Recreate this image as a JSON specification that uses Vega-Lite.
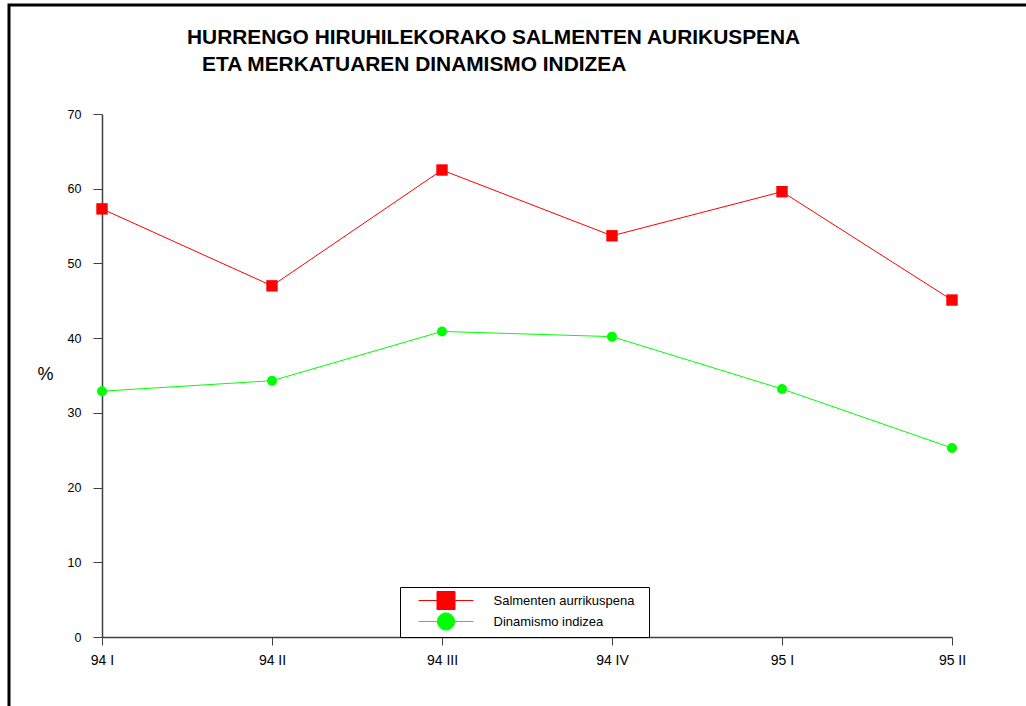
{
  "$schema": "https://vega.github.io/schema/vega-lite/v6.json",
  "autosize": {"type": "none"},
  "padding": {"left": 9, "top": 5, "right": 0, "bottom": 0},
  "width": 1030,
  "height": 710,
  "background": "white",
  "config": {
    "font": "Liberation Sans",
    "view": {"stroke": "black", "strokeWidth": 3, "fill": "white"}
  },
  "title": {
    "text": ["HURRENGO HIRUHILEKORAKO SALMENTEN AURIKUSPENA", "\u2800ETA MERKATUAREN DINAMISMO INDIZEA"],
    "anchor": "start",
    "frame": "group",
    "dx": 178,
    "offset": -69.5,
    "baseline": "top",
    "font": "Liberation Sans",
    "fontSize": 20.9,
    "fontWeight": "bold",
    "lineHeight": 27,
    "color": "black"
  },
  "data": {
    "values": [
      {"periodoa": "94 I", "saila": "Salmenten aurrikuspena", "balioa": 57.3},
      {"periodoa": "94 II", "saila": "Salmenten aurrikuspena", "balioa": 47.0},
      {"periodoa": "94 III", "saila": "Salmenten aurrikuspena", "balioa": 62.5},
      {"periodoa": "94 IV", "saila": "Salmenten aurrikuspena", "balioa": 53.7},
      {"periodoa": "95 I", "saila": "Salmenten aurrikuspena", "balioa": 59.6},
      {"periodoa": "95 II", "saila": "Salmenten aurrikuspena", "balioa": 45.1},
      {"periodoa": "94 I", "saila": "Dinamismo indizea", "balioa": 32.9},
      {"periodoa": "94 II", "saila": "Dinamismo indizea", "balioa": 34.3},
      {"periodoa": "94 III", "saila": "Dinamismo indizea", "balioa": 40.9},
      {"periodoa": "94 IV", "saila": "Dinamismo indizea", "balioa": 40.2},
      {"periodoa": "95 I", "saila": "Dinamismo indizea", "balioa": 33.2},
      {"periodoa": "95 II", "saila": "Dinamismo indizea", "balioa": 25.3}
    ]
  },
  "encoding": {
    "x": {
      "field": "periodoa",
      "type": "ordinal",
      "sort": null,
      "scale": {"type": "point", "range": [93, 943], "padding": 0},
      "axis": {
        "title": null,
        "offset": -78,
        "labelAngle": 0,
        "labelFont": "Liberation Sans",
        "labelFontSize": 14,
        "labelColor": "black",
        "labelPadding": 8,
        "tickSize": 8,
        "tickColor": "#404040",
        "domainColor": "#404040",
        "domainWidth": 1.5,
        "grid": false
      }
    },
    "y": {
      "field": "balioa",
      "type": "quantitative",
      "scale": {"domain": [0, 70], "range": [632, 109], "nice": false, "zero": true},
      "axis": {
        "title": "%",
        "titleAngle": 0,
        "titleX": -57,
        "titleY": 369,
        "titleAlign": "center",
        "titleBaseline": "middle",
        "titleFont": "Liberation Sans",
        "titleFontSize": 18,
        "titleFontWeight": "normal",
        "titleColor": "black",
        "offset": -93,
        "values": [0, 10, 20, 30, 40, 50, 60, 70],
        "labelFont": "Liberation Sans",
        "labelFontSize": 12.5,
        "labelColor": "black",
        "labelPadding": 12,
        "tickSize": 9,
        "tickColor": "#404040",
        "domainColor": "#404040",
        "domainWidth": 1.5,
        "grid": false
      }
    },
    "color": {
      "field": "saila",
      "type": "nominal",
      "scale": {"domain": ["Salmenten aurrikuspena", "Dinamismo indizea"], "range": ["#ff0000", "#00ff00"]},
      "legend": {
        "title": null,
        "orient": "none",
        "legendX": 391,
        "legendY": 582,
        "strokeColor": "black",
        "fillColor": "white",
        "padding": 4,
        "rowPadding": -2,
        "symbolSize": 324,
        "symbolStrokeWidth": 1,
        "symbolOpacity": 1,
        "symbolType": {"expr": "datum.value === 'Salmenten aurrikuspena' ? 'M-3.05,0H3.05M-1,-1H1V1H-1Z' : 'M-3.05,0H3.05M-0.95,0A0.95,0.95,0,1,1,0.95,0A0.95,0.95,0,1,1,-0.95,0Z'"},
        "symbolOffset": 32.5,
        "labelOffset": 38,
        "labelFont": "Liberation Sans",
        "labelFontSize": 13,
        "labelColor": "black",
        "labelExpr": "datum.label + '\u2800'"
      }
    }
  },
  "layer": [
    {"mark": {"type": "line", "strokeWidth": 1}},
    {
      "transform": [{"filter": "datum.saila === 'Salmenten aurrikuspena'"}],
      "mark": {"type": "point", "filled": true, "opacity": 1, "shape": "square", "size": 130}
    },
    {
      "transform": [{"filter": "datum.saila === 'Dinamismo indizea'"}],
      "mark": {"type": "point", "filled": true, "opacity": 1, "shape": "circle", "size": 100}
    }
  ]
}
